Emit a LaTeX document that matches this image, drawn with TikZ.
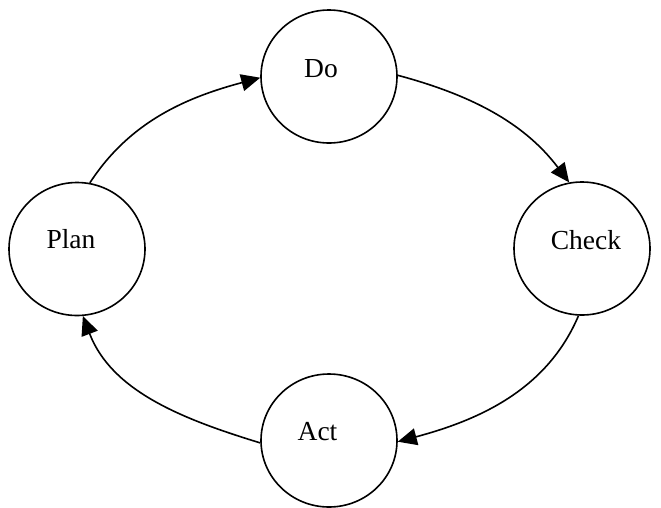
\documentclass[tikz,border=0pt]{standalone}
\usepackage{fontspec}
\setmainfont{Liberation Serif}
\usetikzlibrary{shapes.geometric,arrows.meta}
\begin{document}
\begin{tikzpicture}[x=1pt,y=-1pt,
  stage/.style={draw,ellipse,line width=1.6pt,minimum width=136pt,minimum height=133pt,inner sep=0pt},
  lbl/.style={inner sep=0pt,font=\fontsize{27.5}{27.5}\selectfont},
  flow/.style={line width=1.6pt,-{Triangle[length=19pt,width=17pt]}}]
\useasboundingbox (0,0) rectangle (661,507);
\node[stage] (do) at (329,76.5) {};
\node[stage] (plan) at (77,249) {};
\node[stage] (check) at (582,248.5) {};
\node[stage] (act) at (329,440.5) {};
\node[lbl] (doT) at (321,68.5) {Do};
\node[lbl] (planT) at (71,239) {Plan};
\node[lbl] (checkT) at (586,240) {Check};
\node[lbl] (actT) at (317.5,432) {Act};
\draw[flow] (plan.79) to[out=57,in=195,looseness=0.95] (do.181);
\draw[flow] (do.1) to[out=-15,in=127,looseness=0.95] (check.101);
\draw[flow] (check.267) to[out=247,in=15,looseness=0.95] (act.359);
\draw[flow] (act.182) to[out=163,in=291,looseness=0.95] (plan.275);
\end{tikzpicture}
\end{document}
